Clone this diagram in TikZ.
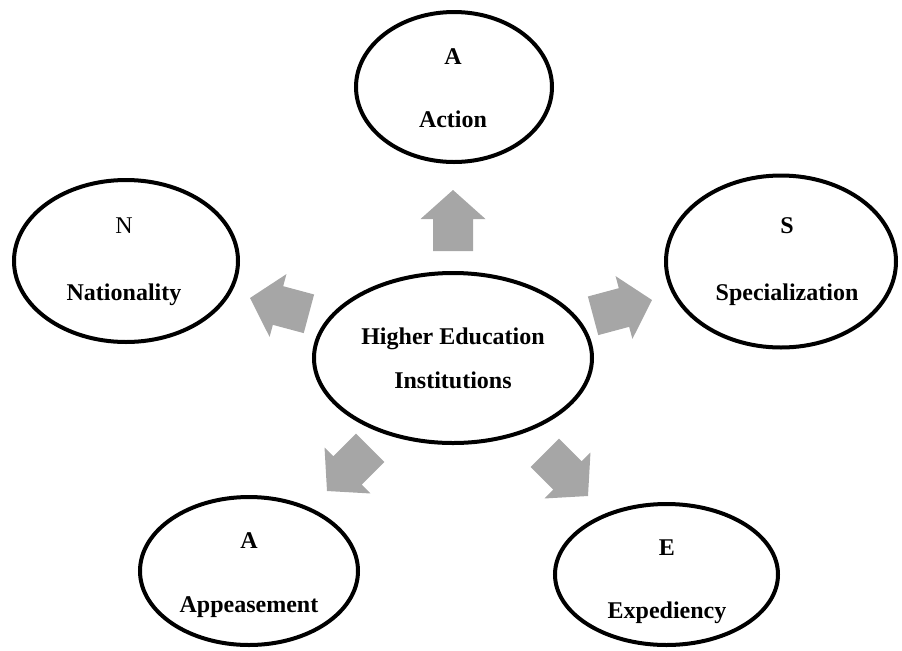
\documentclass[tikz,border=0pt]{standalone}
\usepackage{fontspec}
\setmainfont{Liberation Serif}
\usetikzlibrary{shapes.geometric}
\definecolor{arrowgray}{HTML}{A6A6A6}
\tikzset{
  ell/.style={ellipse, draw=black, line width=2pt, fill=white, inner sep=0pt},
  lbl/.style={font=\fontsize{12}{#1}\selectfont\bfseries, align=center, inner sep=0pt},
  blk/.pic={\fill[arrowgray] (0,0) -- (-29,32.5) -- (-29,20) -- (-61,20) -- (-61,-20) -- (-29,-20) -- (-29,-32.5) -- cycle;}
}
\begin{document}
\begin{tikzpicture}[x=0.5pt, y=-0.5pt]
\path[use as bounding box] (0,0) rectangle (902,650);

% ellipses
\node[ell, minimum width=139pt, minimum height=85pt] (hei) at (453,358) {};
\node[ell, minimum width=98pt, minimum height=75pt] (act) at (454,87) {};
\node[ell, minimum width=112pt, minimum height=81pt] (nat) at (126,261) {};
\node[ell, minimum width=115pt, minimum height=86pt] (spe) at (781,261.5) {};
\node[ell, minimum width=109pt, minimum height=74pt] (app) at (249,571) {};
\node[ell, minimum width=111.5pt, minimum height=70.5pt] (exp) at (666.5,574.5) {};

% texts
\node[lbl=22pt] (hei-t) at (453,358) {Higher Education\\Institutions};
\node[lbl=31.5pt] (act-t) at (453,88.5) {A\\Action};
\node[lbl=33.5pt] (nat-t) at (124,261.5) {\textmd{N}\\Nationality};
\node[lbl=33.5pt] (spe-t) at (787,261.5) {S\\Specialization};
\node[lbl=32pt] (app-t) at (249,575) {A\\Appeasement};
\node[lbl=31.5pt] (exp-t) at (667,581.5) {E\\Expediency};

% block arrows (tip position, direction)
\pic[rotate=90] (a-act) at (453,190) {blk};
\pic[rotate=165] (a-nat) at (250,298) {blk};
\pic[rotate=15] (a-spe) at (652,300) {blk};
\pic[rotate=-135] (a-app) at (327,491) {blk};
\pic[rotate=-45] (a-exp) at (588,496) {blk};
\end{tikzpicture}
\end{document}
